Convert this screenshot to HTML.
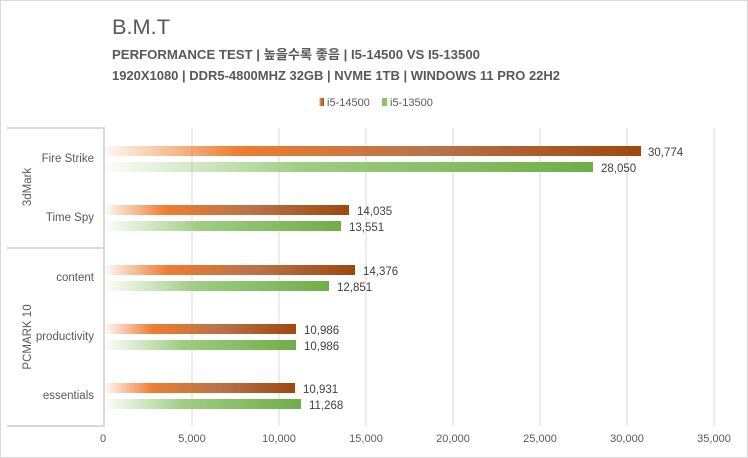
<!DOCTYPE html>
<html><head><meta charset="utf-8"><style>
body{margin:0;background:#fff}
svg{display:block;font-family:"Liberation Sans","Noto Sans CJK KR",sans-serif}
</style></head><body>
<svg width="748" height="458" viewBox="0 0 748 458">
<defs>
<linearGradient id="o" x1="0" x2="1" y1="0" y2="0">
<stop offset="0" stop-color="#ed7d31" stop-opacity="0.05"/>
<stop offset="0.25" stop-color="#ed7d31"/>
<stop offset="0.6" stop-color="#b8744a"/>
<stop offset="1" stop-color="#9e480e"/>
</linearGradient>
<linearGradient id="g" x1="0" x2="1" y1="0" y2="0">
<stop offset="0" stop-color="#a9d18e" stop-opacity="0.05"/>
<stop offset="0.4" stop-color="#a0cd84"/>
<stop offset="1" stop-color="#70ad47"/>
</linearGradient>
</defs>
<rect x="0.5" y="0.5" width="747" height="457" fill="#fff" stroke="#d9d9d9"/>
<text x="112" y="34" font-size="21" fill="#595959" textLength="58" lengthAdjust="spacingAndGlyphs">B.M.T</text>
<text x="112" y="59" font-size="13" font-weight="bold" fill="#595959" textLength="368" lengthAdjust="spacingAndGlyphs">PERFORMANCE TEST | 높을수록 좋음 | I5-14500 VS I5-13500</text>
<text x="112" y="80" font-size="13" font-weight="bold" fill="#595959" textLength="448" lengthAdjust="spacingAndGlyphs">1920X1080 | DDR5-4800MHZ 32GB | NVME 1TB | WINDOWS 11 PRO 22H2</text>
<rect x="319" y="98" width="5" height="8" fill="url(#o)"/>
<text x="327" y="106" font-size="11" fill="#595959">i5-14500</text>
<rect x="382" y="98" width="5" height="8" fill="#8fc06a"/>
<text x="390" y="106" font-size="11" fill="#595959">i5-13500</text>
<g stroke="#d9d9d9" stroke-width="1">
<line x1="192" y1="128" x2="192" y2="426"/><line x1="279" y1="128" x2="279" y2="426"/>
<line x1="366" y1="128" x2="366" y2="426"/><line x1="453" y1="128" x2="453" y2="426"/>
<line x1="540" y1="128" x2="540" y2="426"/><line x1="627" y1="128" x2="627" y2="426"/>
<line x1="714" y1="128" x2="714" y2="426"/>
</g>
<g stroke="#d9d9d9" stroke-width="2" fill="none">
<polyline points="7,128 104,128 104,426 7,426"/>
<line x1="7" y1="248" x2="104" y2="248"/>
</g>
<g font-size="11.5" fill="#595959" text-anchor="end">
<text x="94" y="162">Fire Strike</text>
<text x="94" y="221">Time Spy</text>
<text x="94" y="281">content</text>
<text x="94" y="340">productivity</text>
<text x="94" y="399">essentials</text>
</g>
<text transform="translate(31,187) rotate(-90)" font-size="11.5" fill="#595959" text-anchor="middle">3dMark</text>
<text transform="translate(31,337) rotate(-90)" font-size="11.5" fill="#595959" text-anchor="middle">PCMARK 10</text>
<g>
<rect x="105" y="146" width="536" height="10" fill="url(#o)"/>
<rect x="105" y="162" width="488" height="10" fill="url(#g)"/>
<rect x="105" y="205" width="244" height="10" fill="url(#o)"/>
<rect x="105" y="221" width="236" height="10" fill="url(#g)"/>
<rect x="105" y="265" width="250" height="10" fill="url(#o)"/>
<rect x="105" y="281" width="224" height="10" fill="url(#g)"/>
<rect x="105" y="324" width="191" height="10" fill="url(#o)"/>
<rect x="105" y="340" width="191" height="10" fill="url(#g)"/>
<rect x="105" y="383" width="190" height="10" fill="url(#o)"/>
<rect x="105" y="399" width="196" height="10" fill="url(#g)"/>
</g>
<g font-size="11.5" fill="#404040">
<text x="648" y="156">30,774</text>
<text x="601" y="172">28,050</text>
<text x="357" y="215">14,035</text>
<text x="349" y="231">13,551</text>
<text x="363" y="275">14,376</text>
<text x="337" y="291">12,851</text>
<text x="304" y="334">10,986</text>
<text x="304" y="350">10,986</text>
<text x="303" y="393">10,931</text>
<text x="309" y="409">11,268</text>
</g>
<g font-size="11" fill="#595959" text-anchor="middle">
<text x="103" y="442">0</text><text x="192" y="442">5,000</text>
<text x="279" y="442">10,000</text><text x="366" y="442">15,000</text>
<text x="453" y="442">20,000</text><text x="540" y="442">25,000</text>
<text x="627" y="442">30,000</text><text x="714" y="442">35,000</text>
</g>
</svg>
</body></html>
